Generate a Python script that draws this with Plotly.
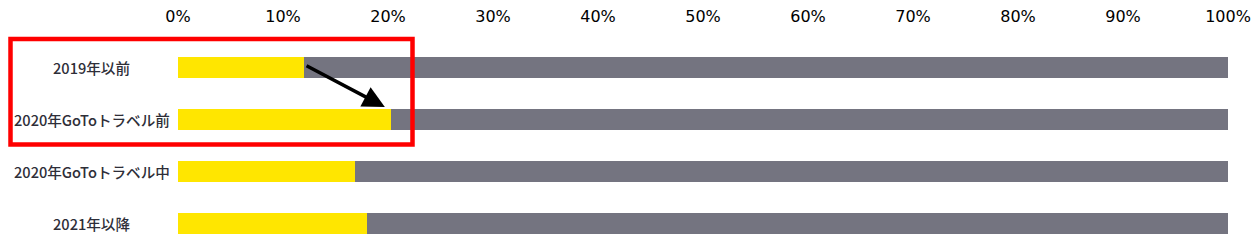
import plotly.graph_objects as go

categories = ["2019年以前", "2020年GoToトラベル前", "2020年GoToトラベル中", "2021年以降"]
share_yes = [12.0, 20.3, 16.9, 18.0]
share_rest = [88.0, 79.7, 83.1, 82.0]
tick_vals = [0, 10, 20, 30, 40, 50, 60, 70, 80, 90, 100]
tick_text = ["0%", "10%", "20%", "30%", "40%", "50%", "60%", "70%", "80%", "90%", "100%"]

W, H = 1259, 244
L, R, T, B = 178, 31, 40, 0
plot_w = W - L - R
plot_h = H - T - B

fig = go.Figure()
fig.add_trace(go.Bar(y=categories, x=share_yes, orientation="h",
                     marker=dict(color="#FFE600", line=dict(width=0)), width=0.4,
                     hoverinfo="x"))
fig.add_trace(go.Bar(y=categories, x=share_rest, orientation="h",
                     marker=dict(color="#747480", line=dict(width=0)), width=0.4,
                     hoverinfo="x"))

def px_x(p):
    return (p - L) / plot_w

def px_y(p):
    return (H - B - p) / plot_h

annotations = []
for i, c in enumerate(categories):
    annotations.append(dict(x=px_x(91.5), xref="paper", y=c, yref="y",
                            text=c,
                            showarrow=False, xanchor="center", yanchor="middle",
                            font=dict(family="Noto Sans CJK JP", size=14.6, color="#2E2E38",
                                      weight=500)))

annotations.append(dict(x=19.7, y=0.76, xref="x", yref="y",
                        ax=12.1, ay=-0.05, axref="x", ayref="y",
                        showarrow=True, arrowhead=2, arrowsize=1.25, arrowwidth=3.5,
                        arrowcolor="#000000", text=""))

fig.update_layout(
    width=W, height=H,
    margin=dict(l=L, r=R, t=T, b=B),
    barmode="stack",
    bargap=0.6,
    showlegend=False,
    plot_bgcolor="white", paper_bgcolor="white",
    xaxis=dict(range=[0, 100], side="top", tickvals=tick_vals, ticktext=tick_text,
               showgrid=False, zeroline=False, showline=False, ticks="",
               ticklabelstandoff=14,
               tickfont=dict(family="DejaVu Sans", size=16, color="#000000"),
               fixedrange=True),
    yaxis=dict(type="category", categoryorder="array", categoryarray=categories,
               range=[3.394, -0.529], showticklabels=False, showgrid=False,
               zeroline=False, showline=False, ticks="", fixedrange=True),
    shapes=[dict(type="rect", xref="paper", yref="paper",
                 x0=px_x(10.5), x1=px_x(412.5), y0=px_y(144.5), y1=px_y(39),
                 line=dict(color="#FF0000", width=4.5), fillcolor="rgba(0,0,0,0)")],
    annotations=annotations,
)

fig.write_html("out.html")
